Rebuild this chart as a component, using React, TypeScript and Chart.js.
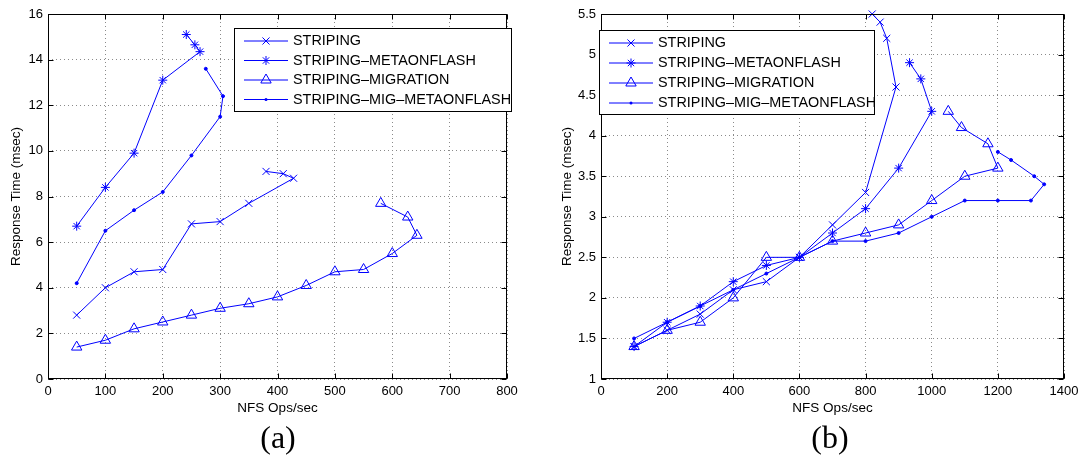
import React, { useEffect, useRef } from "react";
import { Chart, registerables } from "chart.js";
Chart.register(...registerables);

const seriesNames = ["STRIPING", "STRIPING–METAONFLASH", "STRIPING–MIGRATION", "STRIPING–MIG–METAONFLASH"];
const markerStyles = ["crossRot", "star", "triangle", "circle"];
const markerRadii = [5, 4.5, 6, 1.5];

// ---- panel (a) ----
const aStripingX = [50, 100, 150, 200, 250, 300, 350, 428, 410, 380];
const aStripingY = [2.8, 4.0, 4.7, 4.8, 6.8, 6.9, 7.7, 8.8, 9.0, 9.1];
const aMetaX = [50, 100, 150, 200, 265, 256, 241];
const aMetaY = [6.7, 8.4, 9.9, 13.1, 14.35, 14.65, 15.1];
const aMigX = [50, 100, 150, 200, 250, 300, 350, 400, 450, 500, 550, 600, 643, 627, 580];
const aMigY = [1.4, 1.7, 2.2, 2.5, 2.8, 3.1, 3.3, 3.6, 4.1, 4.7, 4.8, 5.5, 6.3, 7.1, 7.7];
const aMigMetaX = [50, 100, 150, 200, 250, 300, 305, 275];
const aMigMetaY = [4.2, 6.5, 7.4, 8.2, 9.8, 11.5, 12.4, 13.6];
const aXTicks = [0, 100, 200, 300, 400, 500, 600, 700, 800];
const aYTicks = [0, 2, 4, 6, 8, 10, 12, 14, 16];

// ---- panel (b) ----
const bStripingX = [100, 200, 300, 400, 500, 600, 700, 800, 892, 864, 844, 820];
const bStripingY = [1.4, 1.6, 1.8, 2.1, 2.2, 2.5, 2.9, 3.3, 4.6, 5.2, 5.4, 5.5];
const bMetaX = [100, 200, 300, 400, 500, 600, 700, 800, 900, 1000, 967, 933];
const bMetaY = [1.4, 1.7, 1.9, 2.2, 2.4, 2.5, 2.8, 3.1, 3.6, 4.3, 4.7, 4.9];
const bMigX = [100, 200, 300, 400, 500, 600, 700, 800, 900, 1000, 1100, 1200, 1170, 1090, 1050];
const bMigY = [1.4, 1.6, 1.7, 2.0, 2.5, 2.5, 2.7, 2.8, 2.9, 3.2, 3.5, 3.6, 3.9, 4.1, 4.3];
const bMigMetaX = [100, 200, 300, 400, 500, 600, 700, 800, 900, 1000, 1100, 1200, 1300, 1340, 1310, 1240, 1200];
const bMigMetaY = [1.5, 1.7, 1.9, 2.1, 2.3, 2.5, 2.7, 2.7, 2.8, 3.0, 3.2, 3.2, 3.2, 3.4, 3.5, 3.7, 3.8];
const bXTicks = [0, 200, 400, 600, 800, 1000, 1200, 1400];
const bYTicks = [1, 1.5, 2, 2.5, 3, 3.5, 4, 4.5, 5, 5.5];

const xTitle = "NFS Ops/sec";
const yTitle = "Response Time (msec)";

const BLUE = "#0000ff";
const FONT = "'Liberation Sans', Arial, sans-serif";

function drawMarker(ctx: CanvasRenderingContext2D, style: string, x: number, y: number, r: number) {
  ctx.beginPath();
  if (style === "crossRot" || style === "star") {
    const o = Math.cos(Math.PI / 4) * r;
    ctx.moveTo(x - o, y - o); ctx.lineTo(x + o, y + o);
    ctx.moveTo(x - o, y + o); ctx.lineTo(x + o, y - o);
    if (style === "star") {
      ctx.moveTo(x, y - r); ctx.lineTo(x, y + r);
      ctx.moveTo(x - r, y); ctx.lineTo(x + r, y);
    }
    ctx.stroke();
  } else if (style === "triangle") {
    for (let k = 0; k < 3; k++) {
      const a = (k * 2 * Math.PI) / 3;
      const px = x + Math.sin(a) * r, py = y - Math.cos(a) * r;
      if (k === 0) ctx.moveTo(px, py); else ctx.lineTo(px, py);
    }
    ctx.closePath();
    ctx.stroke();
  } else {
    ctx.arc(x, y, r, 0, Math.PI * 2);
    ctx.fill();
  }
}

type LegendLayout = { box: [number, number, number, number]; rows: number[]; x0: number; x1: number; tx: number };

function makeDatasets(xs: number[][], ys: number[][]) {
  return xs.map((xa, i) => ({
    label: seriesNames[i],
    data: xa.map((x, j) => ({ x, y: ys[i][j] })),
    showLine: true,
    borderColor: BLUE,
    backgroundColor: i === 3 ? BLUE : "rgba(0,0,0,0)",
    borderWidth: 1,
    pointStyle: markerStyles[i],
    pointRadius: markerRadii[i],
    pointBorderWidth: 1,
    pointBorderColor: BLUE,
    pointBackgroundColor: i === 3 ? BLUE : "rgba(0,0,0,0)",
    clip: 12,
    tension: 0,
  }));
}

function buildConfig(p: {
  xs: number[][]; ys: number[][]; xTicks: number[]; yTicks: number[];
  yAxisWidth: number; padRight: number; yTitlePad: number; legend: LegendLayout;
}): any {
  const framePlugin = {
    id: "matlabFrame",
    afterDatasetsDraw(chart: any) {
      const { ctx, chartArea: a, scales } = chart;
      ctx.save();
      ctx.strokeStyle = "#000";
      ctx.lineWidth = 1;
      const L = Math.round(a.left) + 0.5, R = Math.round(a.right) - 0.5;
      const T = Math.round(a.top) + 0.5, B = Math.round(a.bottom) - 0.5;
      ctx.strokeRect(L, T, R - L, B - T);
      ctx.beginPath();
      for (const t of scales.x.ticks) {
        const px = Math.round(scales.x.getPixelForValue(t.value)) + 0.5;
        ctx.moveTo(px, B); ctx.lineTo(px, B - 5);
        ctx.moveTo(px, T); ctx.lineTo(px, T + 5);
      }
      for (const t of scales.y.ticks) {
        const py = Math.round(scales.y.getPixelForValue(t.value)) + 0.5;
        ctx.moveTo(L, py); ctx.lineTo(L + 5, py);
        ctx.moveTo(R, py); ctx.lineTo(R - 5, py);
      }
      ctx.stroke();
      ctx.restore();
    },
    afterDraw(chart: any) {
      const { ctx } = chart;
      const lg = p.legend;
      ctx.save();
      const [bx, by, bw, bh] = lg.box;
      ctx.fillStyle = "#fff";
      ctx.fillRect(bx, by, bw, bh);
      ctx.strokeStyle = "#000";
      ctx.lineWidth = 1;
      ctx.strokeRect(bx + 0.5, by + 0.5, bw - 1, bh - 1);
      ctx.font = `14.4px ${FONT}`;
      ctx.textBaseline = "middle";
      ctx.textAlign = "left";
      lg.rows.forEach((ry, i) => {
        ctx.strokeStyle = BLUE;
        ctx.fillStyle = BLUE;
        ctx.lineWidth = 1;
        ctx.beginPath();
        ctx.moveTo(lg.x0, ry + 0.5);
        ctx.lineTo(lg.x1, ry + 0.5);
        ctx.stroke();
        drawMarker(ctx, markerStyles[i], (lg.x0 + lg.x1) / 2, ry + 0.5, markerRadii[i]);
        ctx.fillStyle = "#000";
        ctx.fillText(seriesNames[i], lg.tx, ry + 1);
      });
      ctx.restore();
    },
  };

  const gridOpts = { color: "#8a8a8a", lineWidth: 1, drawTicks: false, borderDash: [1, 3] };
  const borderOpts = { display: false, dash: [1, 3] };
  const tickFont = { family: FONT, size: 13 };
  const titleFont = { family: FONT, size: 13.5 };

  return {
    type: "scatter",
    data: { datasets: makeDatasets(p.xs, p.ys) },
    options: {
      responsive: false,
      animation: false,
      events: [],
      layout: { padding: { top: 14, right: p.padRight, left: 0, bottom: 0 } },
      plugins: { legend: { display: false }, tooltip: { enabled: false } },
      scales: {
        x: {
          type: "linear",
          min: p.xTicks[0],
          max: p.xTicks[p.xTicks.length - 1],
          afterBuildTicks: (ax: any) => { ax.ticks = p.xTicks.map((v) => ({ value: v })); },
          afterFit: (ax: any) => { ax.height = 80; },
          grid: gridOpts,
          border: borderOpts,
          ticks: { color: "#000", font: tickFont, padding: 5, maxRotation: 0, autoSkip: false, callback: (v: any) => String(v) },
          title: { display: true, text: xTitle, color: "#000", font: titleFont, padding: { top: 0, bottom: 43 } },
        },
        y: {
          type: "linear",
          min: p.yTicks[0],
          max: p.yTicks[p.yTicks.length - 1],
          afterBuildTicks: (ax: any) => { ax.ticks = p.yTicks.map((v) => ({ value: v })); },
          afterFit: (ax: any) => { ax.width = p.yAxisWidth; },
          grid: gridOpts,
          border: borderOpts,
          ticks: { color: "#000", font: tickFont, padding: 5, autoSkip: false, callback: (v: any) => String(v) },
          title: { display: true, text: yTitle, color: "#000", font: titleFont, padding: { top: p.yTitlePad, bottom: 0 } },
        },
      },
    },
    plugins: [framePlugin],
  };
}

function Panel({ left, width, config }: { left: number; width: number; config: () => any }) {
  const ref = useRef<HTMLCanvasElement>(null);
  useEffect(() => {
    const chart = new Chart(ref.current as HTMLCanvasElement, config());
    return () => chart.destroy();
  }, []);
  return (
    <canvas
      ref={ref}
      width={width}
      height={459}
      style={{ position: "absolute", left, top: 0, width, height: 459 }}
    />
  );
}

const captionStyle: React.CSSProperties = {
  position: "absolute",
  top: 419,
  fontFamily: "'Liberation Serif', 'DejaVu Serif', serif",
  fontSize: 32,
  lineHeight: "36px",
  color: "#000",
  transform: "translateX(-50%)",
};

export default function App() {
  return (
    <div style={{ position: "absolute", left: 0, top: 0, width: 1086, height: 459, background: "#fff", overflow: "hidden" }}>
      <Panel
        left={0}
        width={543}
        config={() =>
          buildConfig({
            xs: [aStripingX, aMetaX, aMigX, aMigMetaX],
            ys: [aStripingY, aMetaY, aMigY, aMigMetaY],
            xTicks: aXTicks,
            yTicks: aYTicks,
            yAxisWidth: 48,
            padRight: 36,
            yTitlePad: 8,
            legend: { box: [234, 28, 278, 84], rows: [40.5, 60, 79.5, 99], x0: 244, x1: 288, tx: 293 },
          })
        }
      />
      <Panel
        left={543}
        width={543}
        config={() =>
          buildConfig({
            xs: [bStripingX, bMetaX, bMigX, bMigMetaX],
            ys: [bStripingY, bMetaY, bMigY, bMigMetaY],
            xTicks: bXTicks,
            yTicks: bYTicks,
            yAxisWidth: 58,
            padRight: 22,
            yTitlePad: 16,
            legend: { box: [56, 30, 276, 85], rows: [42.5, 62.5, 82.5, 102.5], x0: 66, x1: 110, tx: 115 },
          })
        }
      />
      <div style={{ ...captionStyle, left: 278 }}>(a)</div>
      <div style={{ ...captionStyle, left: 830 }}>(b)</div>
    </div>
  );
}
